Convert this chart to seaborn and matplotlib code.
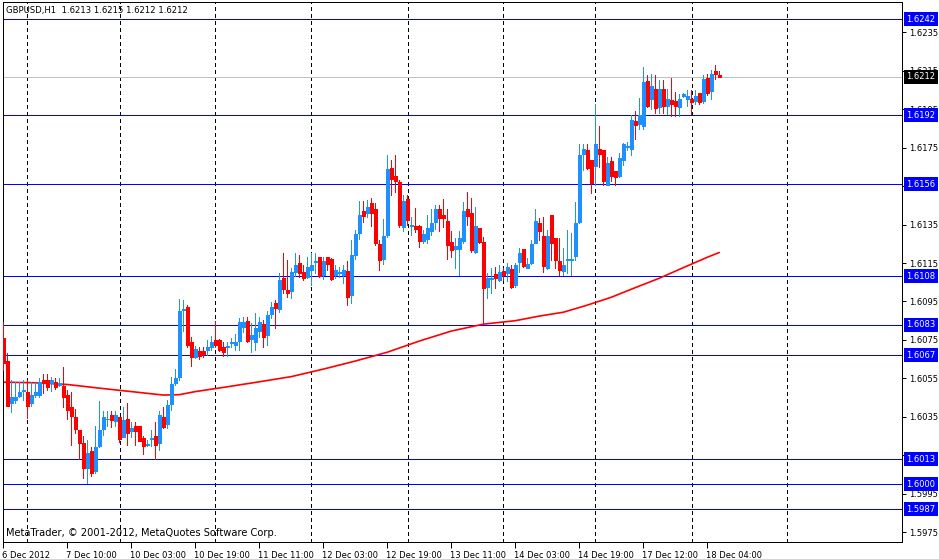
import matplotlib
matplotlib.use('Agg')
import matplotlib.pyplot as plt
import matplotlib.transforms as mtransforms
import seaborn as sns

# GBPUSD H1 bars (bar index 0 = 6 Dec 2012)
opens = [
    1.60758, 1.60640, 1.60420, 1.60437, 1.60460, 1.60486, 1.60479, 1.60420, 1.60463, 1.60463,
    1.60541, 1.60541, 1.60524, 1.60531, 1.60517, 1.60510, 1.60463, 1.60399, 1.60350, 1.60281,
    1.60212, 1.60085, 1.60172, 1.60070, 1.60200, 1.60286, 1.60337, 1.60357, 1.60330, 1.60350,
    1.60246, 1.60338, 1.60278, 1.60302, 1.60302, 1.60239, 1.60203, 1.60236, 1.60250, 1.60215,
    1.60350, 1.60311, 1.60416, 1.60527, 1.60558, 1.60905, 1.60919, 1.60737, 1.60662, 1.60692,
    1.60692, 1.60697, 1.60714, 1.60749, 1.60749, 1.60714, 1.60711, 1.60735, 1.60723, 1.60746,
    1.60818, 1.60848, 1.60753, 1.60737, 1.60798, 1.60831, 1.60775, 1.60884, 1.60943, 1.60909,
    1.61073, 1.61009, 1.61006, 1.61101, 1.61148, 1.61104, 1.61078, 1.61113, 1.61156, 1.61179,
    1.61087, 1.61179, 1.61169, 1.61087, 1.61099, 1.61087, 1.61108, 1.60983, 1.61191, 1.61307,
    1.61420, 1.61411, 1.61463, 1.61430, 1.61248, 1.61169, 1.61295, 1.61647, 1.61602, 1.61572,
    1.61338, 1.61481, 1.61345, 1.61342, 1.61342, 1.61266, 1.61274, 1.61318, 1.61364, 1.61429,
    1.61399, 1.61370, 1.61260, 1.61221, 1.61221, 1.61266, 1.61430, 1.61411, 1.61208, 1.61330,
    1.61260, 1.61026, 1.61065, 1.61092, 1.61061, 1.61110, 1.61099, 1.61117, 1.61035, 1.61156,
    1.61222, 1.61125, 1.61148, 1.61255, 1.61356, 1.61290, 1.61125, 1.61399, 1.61281, 1.61160,
    1.61110, 1.61165, 1.61165, 1.61188, 1.61364, 1.61716, 1.61737, 1.61685, 1.61654, 1.61746,
    1.61737, 1.61555, 1.61682, 1.61628, 1.61602, 1.61685, 1.61754, 1.61746, 1.61890, 1.61876,
    1.61862, 1.62098, 1.62006, 1.62058, 1.61962, 1.62058, 1.61966, 1.61997, 1.61992, 1.61962,
    1.62018, 1.62006, 1.62006, 1.61994, 1.62037, 1.61994, 1.62115, 1.62046, 1.62148, 1.62130,
]
highs = [
    1.60844, 1.60680, 1.60541, 1.60532, 1.60532, 1.60541, 1.60541, 1.60532, 1.60532, 1.60550,
    1.60572, 1.60572, 1.60555, 1.60550, 1.60550, 1.60607, 1.60489, 1.60477, 1.60390, 1.60281,
    1.60250, 1.60229, 1.60194, 1.60302, 1.60434, 1.60380, 1.60380, 1.60380, 1.60380, 1.60350,
    1.60402, 1.60420, 1.60324, 1.60324, 1.60302, 1.60250, 1.60229, 1.60281, 1.60324, 1.60380,
    1.60399, 1.60437, 1.60558, 1.60598, 1.60961, 1.60957, 1.60931, 1.60766, 1.60718, 1.60714,
    1.60714, 1.60749, 1.60770, 1.60848, 1.60755, 1.60740, 1.60740, 1.60758, 1.60780, 1.60862,
    1.60867, 1.60870, 1.60836, 1.60888, 1.60870, 1.60853, 1.60900, 1.60948, 1.60957, 1.61096,
    1.61203, 1.61165, 1.61122, 1.61200, 1.61191, 1.61139, 1.61179, 1.61200, 1.61200, 1.61183,
    1.61183, 1.61183, 1.61174, 1.61139, 1.61130, 1.61139, 1.61162, 1.61269, 1.61321, 1.61472,
    1.61472, 1.61477, 1.61486, 1.61460, 1.61269, 1.61378, 1.61711, 1.61685, 1.61711, 1.61581,
    1.61503, 1.61503, 1.61390, 1.61439, 1.61347, 1.61321, 1.61399, 1.61429, 1.61451, 1.61451,
    1.61481, 1.61429, 1.61318, 1.61278, 1.61318, 1.61468, 1.61520, 1.61486, 1.61442, 1.61330,
    1.61286, 1.61096, 1.61122, 1.61130, 1.61139, 1.61122, 1.61151, 1.61139, 1.61148, 1.61226,
    1.61222, 1.61174, 1.61269, 1.61429, 1.61382, 1.61390, 1.61321, 1.61399, 1.61281, 1.61278,
    1.61229, 1.61321, 1.61304, 1.61468, 1.61768, 1.61768, 1.61768, 1.61685, 1.61980, 1.61862,
    1.61737, 1.61702, 1.61702, 1.61628, 1.61723, 1.61775, 1.61780, 1.61919, 1.61940, 1.62011,
    1.62170, 1.62127, 1.62136, 1.62127, 1.62101, 1.62101, 1.62058, 1.62113, 1.62040, 1.62032,
    1.62037, 1.62049, 1.62053, 1.62053, 1.62037, 1.62127, 1.62136, 1.62153, 1.62179, 1.62150,
]
lows = [
    1.60593, 1.60405, 1.60376, 1.60420, 1.60451, 1.60437, 1.60342, 1.60408, 1.60454, 1.60454,
    1.60475, 1.60489, 1.60486, 1.60493, 1.60510, 1.60399, 1.60337, 1.60203, 1.60267, 1.60130,
    1.60030, 1.60004, 1.60042, 1.60059, 1.60194, 1.60255, 1.60302, 1.60295, 1.60302, 1.60221,
    1.60246, 1.60203, 1.60246, 1.60203, 1.60226, 1.60156, 1.60200, 1.60200, 1.60130, 1.60177,
    1.60290, 1.60290, 1.60385, 1.60515, 1.60541, 1.60798, 1.60714, 1.60614, 1.60654, 1.60649,
    1.60659, 1.60671, 1.60697, 1.60711, 1.60692, 1.60666, 1.60666, 1.60714, 1.60697, 1.60697,
    1.60792, 1.60740, 1.60688, 1.60697, 1.60766, 1.60714, 1.60723, 1.60862, 1.60810, 1.60896,
    1.60992, 1.60974, 1.60966, 1.61082, 1.61078, 1.61061, 1.61070, 1.61035, 1.61096, 1.61078,
    1.61065, 1.61113, 1.61061, 1.61070, 1.61078, 1.61047, 1.60931, 1.60940, 1.61169, 1.61274,
    1.61364, 1.61390, 1.61342, 1.61243, 1.61113, 1.61144, 1.61286, 1.61503, 1.61520, 1.61338,
    1.61318, 1.61347, 1.61295, 1.61312, 1.61234, 1.61252, 1.61252, 1.61295, 1.61325, 1.61318,
    1.61335, 1.61169, 1.61182, 1.61125, 1.61087, 1.61252, 1.61347, 1.61208, 1.61203, 1.61255,
    1.60836, 1.60966, 1.60995, 1.61018, 1.61056, 1.61061, 1.61056, 1.61018, 1.61026, 1.61104,
    1.61130, 1.61122, 1.61144, 1.61252, 1.61269, 1.61105, 1.61117, 1.61165, 1.61122, 1.61087,
    1.61087, 1.61096, 1.61087, 1.61165, 1.61356, 1.61633, 1.61642, 1.61515, 1.61555, 1.61650,
    1.61555, 1.61555, 1.61578, 1.61555, 1.61598, 1.61659, 1.61737, 1.61711, 1.61794, 1.61850,
    1.61850, 1.61962, 1.61954, 1.61931, 1.61931, 1.61931, 1.61928, 1.61914, 1.61914, 1.61914,
    1.62014, 1.61966, 1.61928, 1.61980, 1.61980, 1.61983, 1.62026, 1.62006, 1.62110, 1.62120,
]
closes = [
    1.60628, 1.60408, 1.60454, 1.60454, 1.60477, 1.60489, 1.60408, 1.60463, 1.60479, 1.60532,
    1.60524, 1.60506, 1.60541, 1.60506, 1.60524, 1.60451, 1.60385, 1.60356, 1.60286, 1.60215,
    1.60082, 1.60160, 1.60059, 1.60194, 1.60281, 1.60347, 1.60340, 1.60333, 1.60357, 1.60236,
    1.60333, 1.60267, 1.60291, 1.60278, 1.60226, 1.60200, 1.60208, 1.60241, 1.60203, 1.60359,
    1.60298, 1.60411, 1.60520, 1.60551, 1.60900, 1.60910, 1.60723, 1.60659, 1.60701, 1.60668,
    1.60676, 1.60714, 1.60740, 1.60721, 1.60697, 1.60688, 1.60718, 1.60740, 1.60740, 1.60844,
    1.60844, 1.60746, 1.60775, 1.60810, 1.60844, 1.60766, 1.60879, 1.60919, 1.60914, 1.61061,
    1.61013, 1.60992, 1.61104, 1.61139, 1.61096, 1.61070, 1.61127, 1.61139, 1.61162, 1.61082,
    1.61162, 1.61144, 1.61065, 1.61116, 1.61104, 1.61116, 1.60974, 1.61191, 1.61300, 1.61399,
    1.61396, 1.61442, 1.61408, 1.61252, 1.61165, 1.61290, 1.61638, 1.61586, 1.61578, 1.61347,
    1.61472, 1.61373, 1.61350, 1.61328, 1.61266, 1.61300, 1.61330, 1.61359, 1.61429, 1.61382,
    1.61382, 1.61243, 1.61217, 1.61238, 1.61278, 1.61422, 1.61394, 1.61217, 1.61342, 1.61260,
    1.61018, 1.61073, 1.61071, 1.61070, 1.61101, 1.61089, 1.61127, 1.61026, 1.61139, 1.61203,
    1.61136, 1.61143, 1.61248, 1.61368, 1.61316, 1.61136, 1.61290, 1.61255, 1.61165, 1.61113,
    1.61139, 1.61169, 1.61169, 1.61359, 1.61711, 1.61746, 1.61645, 1.61564, 1.61768, 1.61716,
    1.61578, 1.61671, 1.61602, 1.61598, 1.61699, 1.61768, 1.61758, 1.61897, 1.61867, 1.61919,
    1.62092, 1.61966, 1.62070, 1.61957, 1.62058, 1.61966, 1.62006, 1.61976, 1.61968, 1.62006,
    1.62032, 1.62020, 1.61988, 1.62018, 1.61988, 1.62110, 1.62035, 1.62136, 1.62136, 1.62120,
]

# moving average (red line), sampled at these bar indices
ma_bars = [0, 8, 16, 24, 32, 40, 44, 48, 56, 64, 72, 80, 88, 96, 104, 112, 120,
           128, 134, 140, 146, 152, 158, 164, 170, 176, 179]
ma_values = [1.60530, 1.60527, 1.60518, 1.60499, 1.60481, 1.60463, 1.60465, 1.60481,
             1.60506, 1.60532, 1.60559, 1.60598, 1.60640, 1.60686, 1.60744, 1.60796,
             1.60832, 1.60850, 1.60874, 1.60894, 1.60931, 1.60972, 1.61022, 1.61071,
             1.61126, 1.61180, 1.61205]

# horizontal levels drawn by hand on the chart
levels = [1.6242, 1.6192, 1.6156, 1.6108, 1.6083, 1.6067, 1.6013, 1.6000, 1.5987]
level_labels = ['1.6242', '1.6192', '1.6156', '1.6108', '1.6083', '1.6067', '1.6013', '1.6000', '1.5987']
last_price = 1.6212

price_ticks = [1.5975, 1.5995, 1.6015, 1.6035, 1.6055, 1.6075, 1.6095, 1.6115, 1.6135,
               1.6155, 1.6175, 1.6195, 1.6215, 1.6235]
price_tick_labels = ['1.5975', '1.5995', '1.6015', '1.6035', '1.6055', '1.6075', '1.6095',
                     '1.6115', '1.6135', '1.6155', '1.6175', '1.6195', '1.6215', '1.6235']
time_ticks = [0, 16, 32, 48, 64, 80, 96, 112, 128, 144, 160, 176]
time_labels = ['6 Dec 2012', '7 Dec 10:00', '10 Dec 03:00', '10 Dec 19:00', '11 Dec 11:00',
               '12 Dec 03:00', '12 Dec 19:00', '13 Dec 11:00', '14 Dec 03:00', '14 Dec 19:00',
               '17 Dec 12:00', '18 Dec 04:00']
separator_bars = [5.9, 29.2, 52.9, 77.0, 101.2, 124.9, 147.9, 172.2, 195.9]

BULL = '#1E90FF'
BEAR = '#FF0000'
PX = 0.72  # one pixel in points at dpi 100
FS = 6.0

sns.set_style('white')
plt.rcParams['font.family'] = ['DejaVu Sans']
plt.rcParams['lines.scale_dashes'] = False

W, H = 939, 559
fig = plt.figure(figsize=(W / 100, H / 100), dpi=100)
ax = fig.add_axes([2.5 / W, (H - 541.5) / H, 899 / W, 540 / H])
ax.set_xlim(-0.2, 224.55)
ax.set_ylim(1.597009, 1.625111)

# day separators and price levels
for b in separator_bars:
    ax.axvline(b, color='black', lw=PX, ls=(0, (2.2, 2.2)), zorder=1, antialiased=False)
for lv in levels:
    ax.axhline(lv, color='#0000FF', lw=PX, zorder=1.2, antialiased=False)
ax.axhline(last_price, color='#C0C0C0', lw=PX, zorder=1.1, antialiased=False)

# moving average
sns.lineplot(x=ma_bars, y=ma_values, color='red', lw=1.2, ax=ax, zorder=2)

# candles
for i, (o, h, l, c) in enumerate(zip(opens, highs, lows, closes)):
    col = BULL if c > o else BEAR
    ax.vlines(i, l, h, color=col, lw=PX, zorder=3, antialiased=False)
    ax.bar(i, abs(c - o), bottom=min(o, c), width=0.72, color=col,
           edgecolor=col, linewidth=0.5, zorder=4, antialiased=False)

# axes styling
for s in ax.spines.values():
    s.set_color('black')
    s.set_linewidth(PX)
    s.set_antialiased(False)
ax.yaxis.tick_right()
ax.set_yticks(price_ticks)
ax.set_yticklabels(price_tick_labels)
ax.set_xticks(time_ticks)
ax.set_xticklabels(time_labels, ha='left')
ax.tick_params(axis='y', which='both', right=True, left=False, length=3, width=PX,
               pad=2.5, labelsize=FS, colors='black')
ax.tick_params(axis='x', which='both', bottom=True, length=4, width=PX,
               pad=3, labelsize=FS, colors='black')
for lbl in ax.get_xticklabels():
    lbl.set_transform(lbl.get_transform() + mtransforms.ScaledTranslation(-1 / 100, 0, fig.dpi_scale_trans))
ax.set_xlabel('')
ax.set_ylabel('')
ax.grid(False)

# price labels at the right edge
trans = mtransforms.blended_transform_factory(ax.transAxes, ax.transData)
for lv, txt in zip(levels, level_labels):
    ax.text(1.0 + 4.5 / 899, lv, txt, transform=trans, ha='left', va='center',
            fontsize=FS, color='white', clip_on=False, zorder=10,
            bbox=dict(boxstyle='square,pad=0.3', fc='#0000FF', ec='none'))
ax.text(1.0 + 4.5 / 899, last_price, '1.6212', transform=trans, ha='left', va='center',
        fontsize=FS, color='white', clip_on=False, zorder=10,
        bbox=dict(boxstyle='square,pad=0.3', fc='black', ec='none'))

ax.text(3 / 899, 1 - 9 / 540, 'GBPUSD,H1  1.6213 1.6215 1.6212 1.6212', transform=ax.transAxes,
        ha='left', va='center', fontsize=6.1, color='black', zorder=10)
ax.text(3 / 899, 8.5 / 540, 'MetaTrader, \u00a9 2001-2012, MetaQuotes Software Corp.',
        transform=ax.transAxes, ha='left', va='center', fontsize=7.1, color='black', zorder=10)

fig.savefig('out.png', dpi=100, facecolor='white')
